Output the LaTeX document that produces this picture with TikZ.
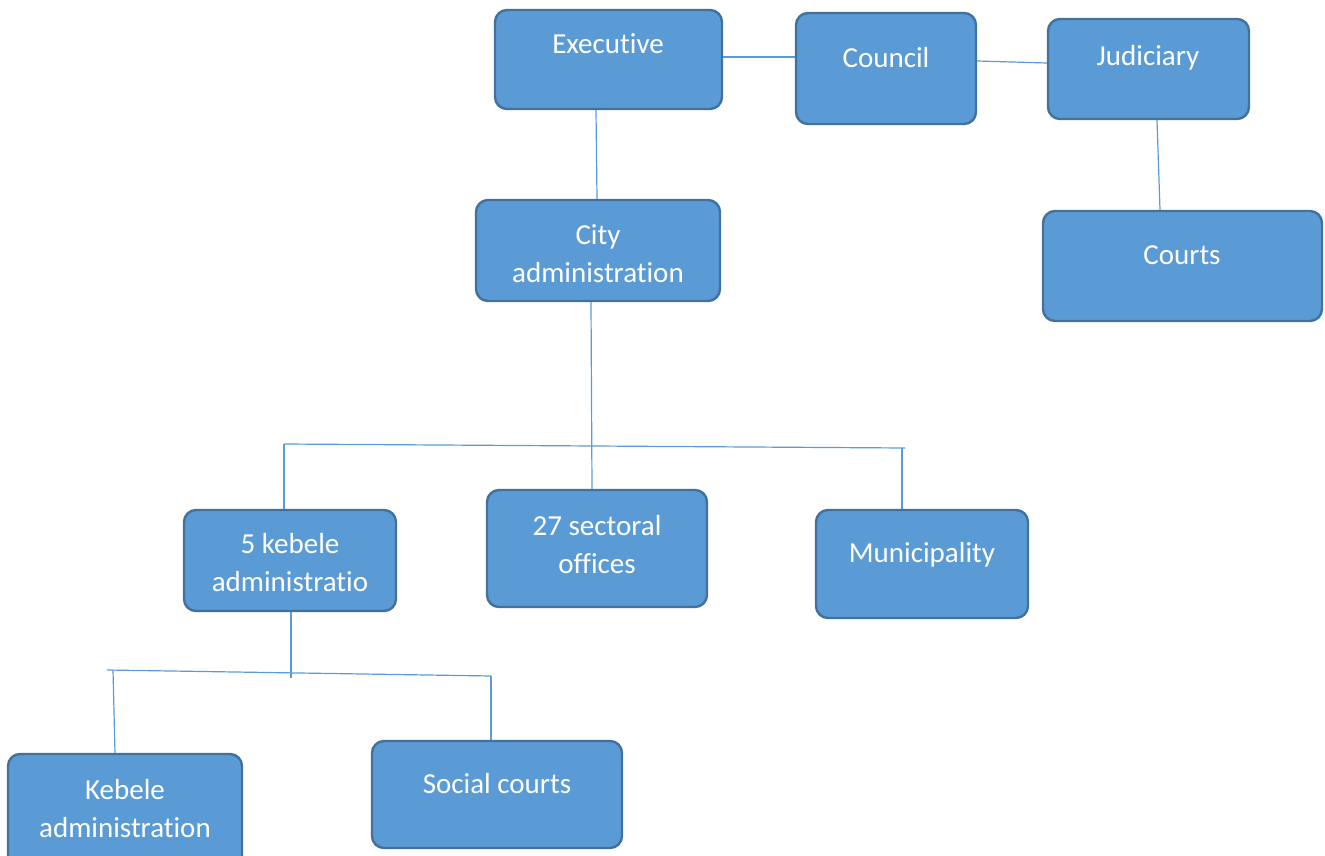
\documentclass[tikz,border=0pt]{standalone}
\usepackage{fontspec}
\setmainfont[Ligatures=NoCommon]{Carlito}
\definecolor{boxfill}{HTML}{5B9BD5}
\definecolor{boxline}{HTML}{41719C}
\tikzset{
  box/.style={draw=boxline, fill=boxfill, line width=2.4pt, rounded corners=12pt,
    inner sep=0pt},
  txt/.style={text=white, align=center, font=\fontsize{29}{38}\selectfont},
  link/.style={draw=boxfill, line width=1.2pt}
}
\begin{document}
\begin{tikzpicture}[x=1pt, y=-1pt]
   \useasboundingbox (0,0) rectangle (1325,856);
   % boxes
   \node (exec)    [box, minimum width=227pt, minimum height=99pt]  at (608.5,59.5) {};
   \node (council) [box, minimum width=180pt, minimum height=111pt] at (886,68.5) {};
   \node (jud)     [box, minimum width=201pt, minimum height=100pt] at (1148.5,69) {};
   \node (courts)  [box, minimum width=279pt, minimum height=110pt] at (1182.5,266) {};
   \node (city)    [box, minimum width=244pt, minimum height=101pt] at (598,250.5) {};
   \node (keb5)    [box, minimum width=212pt, minimum height=101pt] at (290,560.5) {};
   \node (sect)    [box, minimum width=220pt, minimum height=117pt] at (597,548.5) {};
   \node (muni)    [box, minimum width=212pt, minimum height=108pt] at (922,564) {};
   \node (kadm)    [box, minimum width=234pt, minimum height=116pt] at (125,812) {};
   \node (social)  [box, minimum width=250pt, minimum height=107pt] at (497,794.5) {};
   % texts
   \node (execT)    [txt] at (608,44)    {Executive};
   \node (councilT) [txt] at (886,58)    {Council};
   \node (judT)     [txt] at (1148,58)   {Judiciary};
   \node (courtsT)  [txt] at (1182,255)  {Courts};
   \node (cityT)    [txt] at (598,254)   {City\\administration};
   \node (keb5T)    [txt] at (290,563)   {5 kebele\\administratio};
   \node (sectT)    [txt] at (597,544.5) {27 sectoral\\offices};
   \node (muniT)    [txt] at (922,555)   {Municipality};
   \node (kadmT)    [txt] at (125,808.5) {Kebele\\administration};
   \node (socialT)  [txt] at (497,784)   {Social courts};
   % branch points
   \coordinate (barL) at (284,444);
   \coordinate (barR) at (905,448);
   \coordinate (dropR) at (902,448);
   \coordinate (bar2L) at (107,670);
   \coordinate (bar2R) at (491,676);
   \coordinate (drop2L) at (113,670);
   % connectors
   \path[link]
     ([yshift=2.5pt]exec.east) edge ([yshift=11.5pt]council.west)
     ([yshift=7.5pt]council.east) edge ([yshift=6pt]jud.west)
     ([xshift=-12.5pt]exec.south) edge ([xshift=-1pt]city.north)
     ([xshift=8.5pt]jud.south) edge ([xshift=-22.5pt]courts.north)
     ([xshift=-7pt]city.south) edge ([xshift=-5pt]sect.north)
     (barL) edge (barR)
     (barL) edge ([xshift=-6pt]keb5.north)
     (dropR) edge ([xshift=-20pt]muni.north)
     ([xshift=1pt]keb5.south) edge ([xshift=1pt,yshift=-66pt]keb5.south)
     (bar2L) edge (bar2R)
     (drop2L) edge ([xshift=-10pt]kadm.north)
     (bar2R) edge ([xshift=-6pt]social.north);
  \end{tikzpicture}
\end{document}
